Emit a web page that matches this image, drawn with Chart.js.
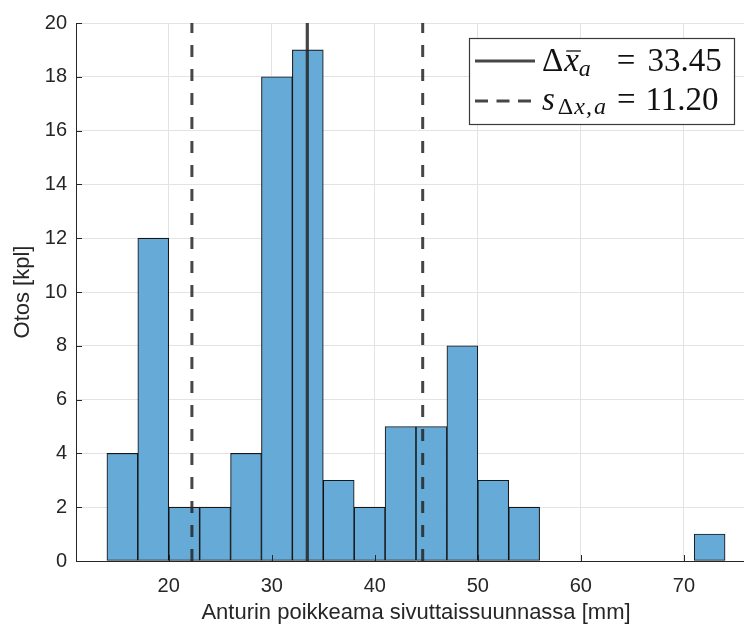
<!DOCTYPE html>
<html>
<head>
<meta charset="utf-8">
<title>Anturin poikkeama</title>
<script src="https://cdn.jsdelivr.net/npm/chart.js@4.4.1/dist/chart.umd.min.js"></script>
<style>
    html, body { margin: 0; padding: 0; background: #fff; overflow: hidden; }
    #wrap { width: 756px; height: 626px; position: relative; }
</style>
</head>
<body>
<div id="wrap"><canvas id="histChart"></canvas></div>
<script>
// Histogram bin edges (mm) and sample counts per bin
const binEdges = [14, 17, 20, 23, 26, 29, 32, 35, 38, 41, 44, 47, 50, 53, 56, 59, 62, 65, 68, 71, 74];
const binCounts = [4, 12, 2, 2, 4, 18, 19, 3, 2, 5, 5, 8, 3, 2, 0, 0, 0, 0, 0, 1];

// Mean and standard deviation
const meanValue = 33.45;
const stdValue = 11.20;

// Axis ticks and limits
const xTicks = [20, 30, 40, 50, 60, 70];
const yTicks = [0, 2, 4, 6, 8, 10, 12, 14, 16, 18, 20];
const xLimits = [11, 77];
const yLimits = [0, 20];

const xTitle = 'Anturin poikkeama sivuttaissuunnassa [mm]';
const yTitle = 'Otos [kpl]';

const axisColor = '#262626';
const lineColor = 'rgba(38,38,38,0.85)';

// Build the bar points from bin centres
const barPoints = binCounts.map((c, i) => ({ x: (binEdges[i] + binEdges[i + 1]) / 2, y: c }));

function vLine(v) {
    return [{ x: v, y: yLimits[0] }, { x: v, y: yLimits[1] }];
}

// Small tick marks pointing into the plot (MATLAB style)
const innerTicks = {
    id: 'innerTicks',
    afterDatasetsDraw(chart) {
        const { ctx, chartArea, scales } = chart;
        ctx.save();
        ctx.strokeStyle = axisColor;
        ctx.lineWidth = 1;
        ctx.beginPath();
        xTicks.forEach(v => {
            const px = Math.round(scales.x.getPixelForValue(v)) + 0.5;
            ctx.moveTo(px, chartArea.bottom);
            ctx.lineTo(px, chartArea.bottom - 6);
        });
        yTicks.forEach(v => {
            const py = Math.round(scales.y.getPixelForValue(v)) + 0.5;
            ctx.moveTo(chartArea.left, py);
            ctx.lineTo(chartArea.left + 6, py);
        });
        ctx.stroke();
        ctx.restore();
    }
};

// Legend box with math-style labels
const mathLegend = {
    id: 'mathLegend',
    afterDraw(chart) {
        const ctx = chart.ctx;
        const box = { x: 469.5, y: 38.5, w: 265, h: 86 };
        const big = 33, small = 24;
        const serif = '"Liberation Serif", "DejaVu Serif", serif';
        ctx.save();
        ctx.fillStyle = '#fff';
        ctx.fillRect(box.x, box.y, box.w, box.h);
        ctx.strokeStyle = '#3a3a3a';
        ctx.lineWidth = 1.2;
        ctx.strokeRect(box.x, box.y, box.w, box.h);

        // sample lines
        ctx.strokeStyle = lineColor;
        ctx.lineWidth = 3;
        ctx.beginPath();
        ctx.moveTo(475, 61); ctx.lineTo(535, 61);
        ctx.stroke();
        ctx.setLineDash([13, 8.5]);
        ctx.beginPath();
        ctx.moveTo(475, 101); ctx.lineTo(535, 101);
        ctx.stroke();
        ctx.setLineDash([]);

        ctx.fillStyle = '#111';
        ctx.textBaseline = 'alphabetic';
        ctx.textAlign = 'left';

        function put(txt, x, y, size, italic) {
            ctx.font = (italic ? 'italic ' : '') + size + 'px ' + serif;
            ctx.fillText(txt, x, y);
            return x + ctx.measureText(txt).width;
        }

        // row 1: Δx̄_a = mean
        let x = 542, y = 71;
        x = put('\u0394', x, y, big, false);
        const xStart = x;
        x = put('x', x + 1, y, big, true);
        ctx.strokeStyle = '#111';
        ctx.lineWidth = 1.3;
        ctx.beginPath();
        ctx.moveTo(xStart + 3, y - 20); ctx.lineTo(x + 2, y - 20);
        ctx.stroke();
        x = put('a', x, y + 5, small, true);
        x = put('=', x + 26, y, big, false);
        put(meanValue.toFixed(2), x + 12, y, big, false);

        // row 2: s_{Δx,a} = std
        x = 542; y = 110;
        x = put('s', x, y, big, true);
        x = put('\u0394', x + 3, y + 4, small, false);
        x = put('x', x + 1, y + 4, small, true);
        x = put(',', x + 1, y + 4, small, true);
        x = put('a', x + 2, y + 4, small, true);
        x = put('=', x + 11, y, big, false);
        put(stdValue.toFixed(2), x + 10, y, big, false);
        ctx.restore();
    }
};

const ctx = document.getElementById('histChart');
new Chart(ctx, {
    type: 'bar',
    data: {
        datasets: [
            {
                type: 'bar',
                data: barPoints,
                backgroundColor: 'rgb(102,170,215)',
                borderColor: 'rgba(0,0,0,0.9)',
                borderWidth: 1.1,
                borderSkipped: false,
                barPercentage: 1,
                categoryPercentage: 1,
                order: 2
            },
            {
                type: 'line',
                data: vLine(meanValue),
                borderColor: lineColor,
                borderWidth: 3.2,
                pointRadius: 0,
                fill: false,
                order: 0
            },
            {
                type: 'line',
                data: vLine(meanValue - stdValue),
                borderColor: lineColor,
                borderWidth: 3,
                borderDash: [12, 12],
                pointRadius: 0,
                fill: false,
                order: 0
            },
            {
                type: 'line',
                data: vLine(meanValue + stdValue),
                borderColor: lineColor,
                borderWidth: 3,
                borderDash: [12, 12],
                pointRadius: 0,
                fill: false,
                order: 0
            }
        ]
    },
    options: {
        responsive: true,
        maintainAspectRatio: false,
        animation: false,
        layout: { padding: { top: 23, right: 0, bottom: 0, left: 0 } },
        plugins: {
            legend: { display: false },
            tooltip: { enabled: false }
        },
        scales: {
            x: {
                type: 'linear',
                min: xLimits[0],
                max: xLimits[1],
                offset: false,
                afterBuildTicks: s => { s.ticks = xTicks.map(v => ({ value: v })); },
                afterFit: s => { s.height = 65; },
                grid: { color: '#e3e3e3', lineWidth: 1, drawTicks: false, offset: false },
                border: { display: true, color: axisColor, width: 1 },
                ticks: {
                    color: axisColor,
                    padding: 13,
                    maxRotation: 0,
                    font: { family: '"Liberation Sans", Arial, sans-serif', size: 20 }
                },
                title: {
                    display: true,
                    text: xTitle,
                    color: axisColor,
                    padding: { top: 0, bottom: 0 },
                    font: { family: '"Liberation Sans", Arial, sans-serif', size: 22 }
                }
            },
            y: {
                type: 'linear',
                min: yLimits[0],
                max: yLimits[1],
                afterBuildTicks: s => { s.ticks = yTicks.map(v => ({ value: v })); },
                afterFit: s => { s.width = 76; },
                grid: { color: '#e3e3e3', lineWidth: 1, drawTicks: false },
                border: { display: true, color: axisColor, width: 1 },
                ticks: {
                    color: axisColor,
                    padding: 9,
                    font: { family: '"Liberation Sans", Arial, sans-serif', size: 20 }
                },
                title: {
                    display: true,
                    text: yTitle,
                    color: axisColor,
                    padding: { top: 10, bottom: 0 },
                    font: { family: '"Liberation Sans", Arial, sans-serif', size: 22 }
                }
            }
        }
    },
    plugins: [innerTicks, mathLegend]
});
</script>
</body>
</html>
